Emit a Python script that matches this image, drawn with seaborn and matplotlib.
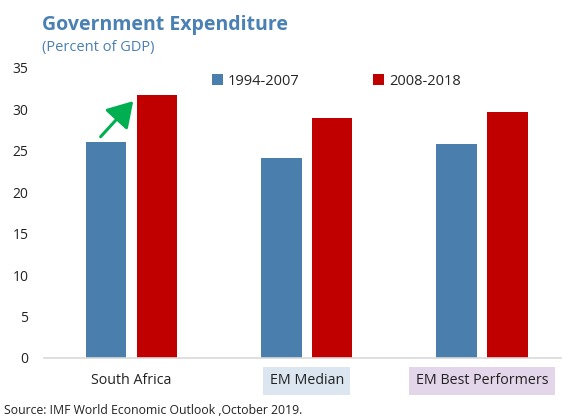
import matplotlib
matplotlib.use("Agg")
import matplotlib.pyplot as plt
import seaborn as sns
import pandas as pd

# Government expenditure, percent of GDP
categories = ["South Africa", "EM Median", "EM Best Performers"]
periods = ["1994-2007", "2008-2018"]
values_1994_2007 = [26.1, 24.1, 25.8]
values_2008_2018 = [31.7, 29.0, 29.7]
yticks = [0, 5, 10, 15, 20, 25, 30, 35]

df = pd.DataFrame({
    "category": categories * 2,
    "period": [periods[0]] * 3 + [periods[1]] * 3,
    "value": values_1994_2007 + values_2008_2018,
})

sns.set_theme(style="white")
plt.rcParams["font.family"] = ["Open Sans", "DejaVu Sans"]

BLUE = "#4a7eac"
RED = "#c00000"
TITLE = "#4a80b4"

fig = plt.figure(figsize=(5.62, 4.17), dpi=100)
ax = fig.add_axes([0.078, 0.1415, 0.92, 0.6955])

sns.barplot(data=df, x="category", y="value", hue="period",
            palette=[BLUE, RED], width=0.58, gap=0.2, ax=ax,
            saturation=1, legend=True, linewidth=0)

ax.set_ylim(0, 35)
ax.set_xlim(-0.5, 2.45)
ax.set_yticks(yticks)
ax.set_yticklabels([str(t) for t in yticks], fontsize=10, color="#222222")
ax.set_xlabel("")
ax.set_ylabel("")
ax.tick_params(axis="y", length=0, pad=11)
ax.tick_params(axis="x", length=0, pad=11)
for s in ["top", "right", "left"]:
    ax.spines[s].set_visible(False)
ax.spines["bottom"].set_color("#d9d9d9")
ax.spines["bottom"].set_linewidth(1.2)

# category labels, two of them on tinted boxes
box_colors = [None, "#dce6f0", "#e4d6ea"]
ax.set_xticks(range(len(categories)))
ax.set_xticklabels(categories, fontsize=10.3, color="#222222")
for lbl, bc in zip(ax.get_xticklabels(), box_colors):
    if bc:
        lbl.set_bbox(dict(boxstyle="square,pad=0.45", fc=bc, ec="none"))

# legend
handles, labels = ax.get_legend_handles_labels()
ax.legend(handles, labels, loc="upper left", bbox_to_anchor=(0.3, 1.025),
          ncol=2, frameon=False, fontsize=10.5, handlelength=0.75,
          handleheight=0.75, handletextpad=0.35, columnspacing=5.0)

# arrow showing the rise in South Africa
ax.annotate("", xy=(0.01, values_2008_2018[0] - 0.7),
            xytext=(-0.176, values_1994_2007[0] + 0.6),
            arrowprops=dict(arrowstyle="-|>,head_length=0.9,head_width=0.55",
                            color="#00b050", lw=2.2, mutation_scale=17,
                            shrinkA=0, shrinkB=0))

fig.text(0.075, 0.94, "Government Expenditure", fontsize=14,
         fontweight="bold", color=TITLE, va="center")
fig.text(0.075, 0.885, "(Percent of GDP)", fontsize=10.5, color=TITLE,
         va="center")
fig.text(0.008, 0.016, "Source: IMF World Economic Outlook ,October 2019.",
         fontsize=8.8, color="#222222", va="center")

fig.savefig("out.png", dpi=100)
